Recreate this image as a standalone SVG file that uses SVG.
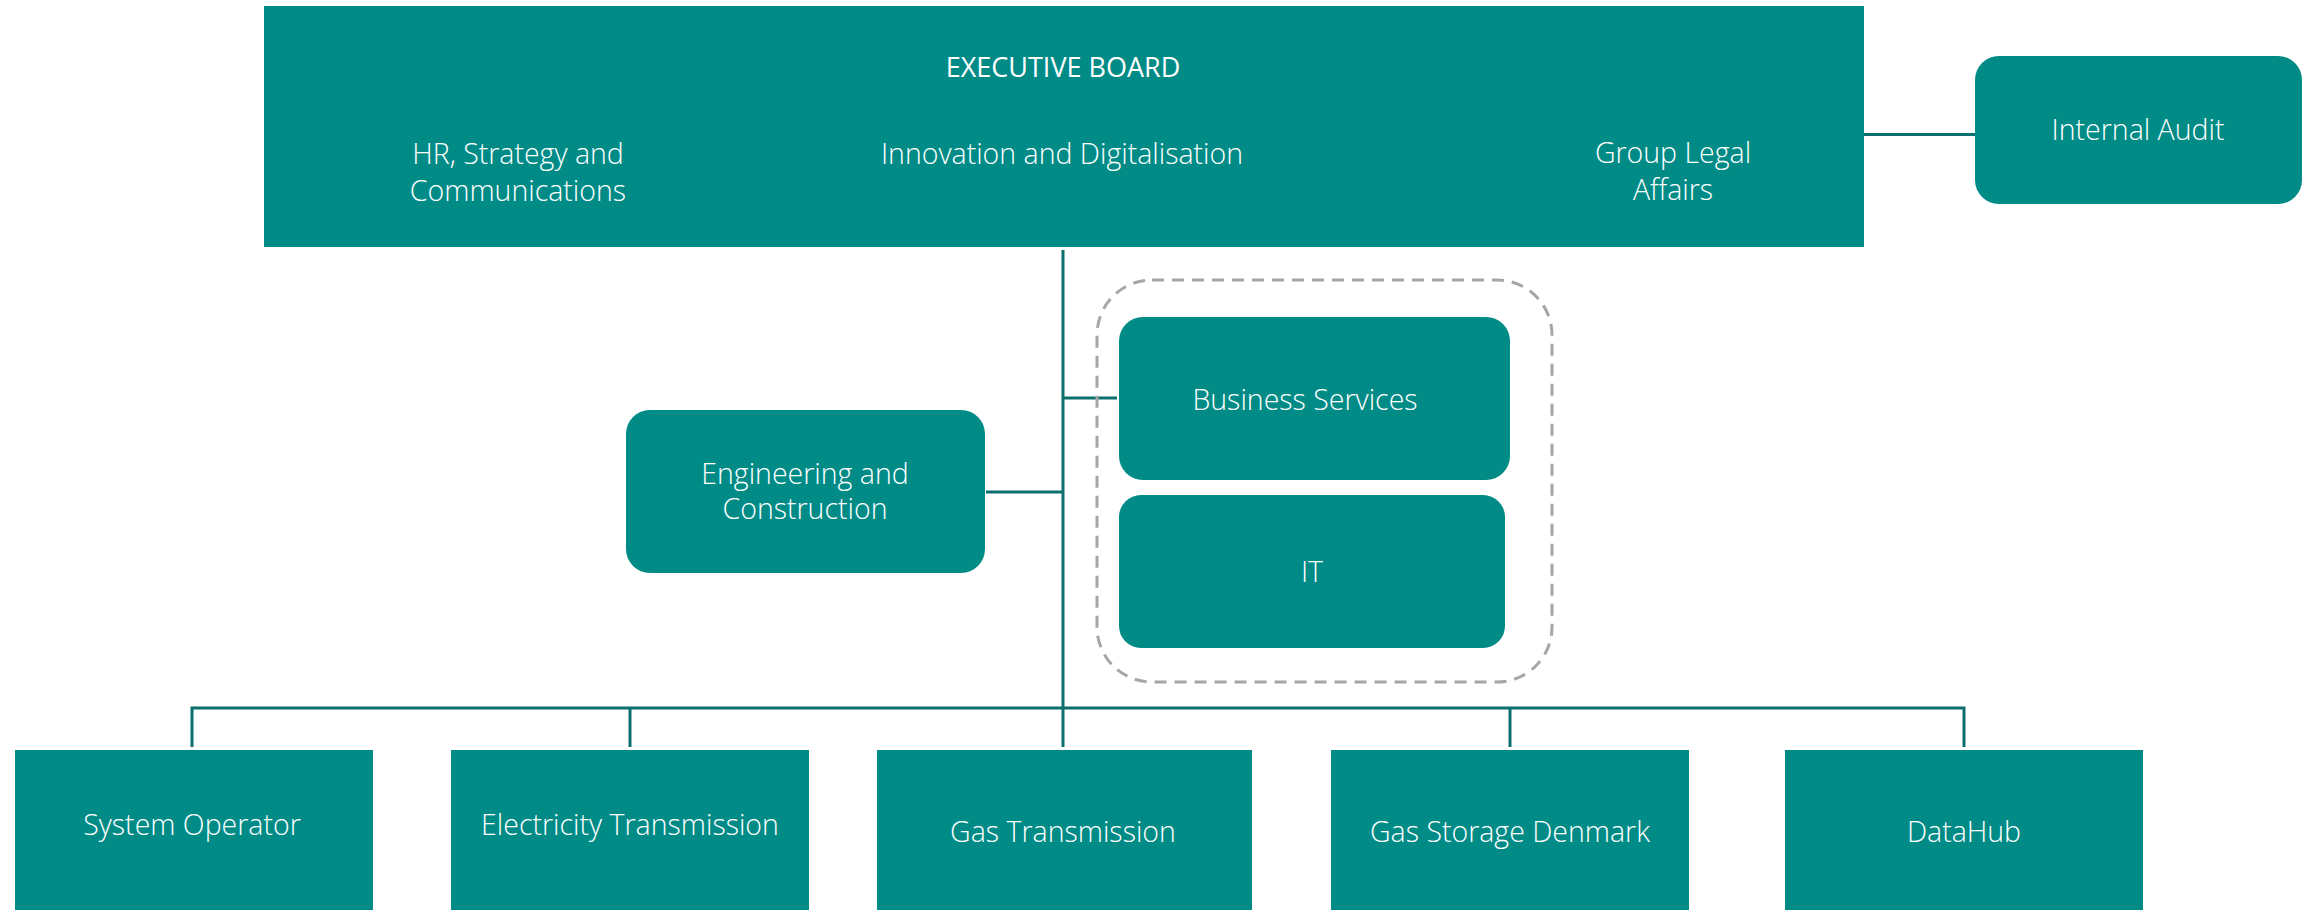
<svg xmlns="http://www.w3.org/2000/svg" width="2303" height="910" viewBox="0 0 2303 910">
<style>
.box{fill:#008b87}
.t{fill:#ffffff;font-family:"Open Sans","Noto Sans",sans-serif;font-weight:300;font-size:28.5px;text-anchor:middle}
.h{font-weight:400;font-size:27px}
.c{fill:none;stroke:#0b706d;stroke-width:3}
.grp{fill:none;stroke:#a6a6a6;stroke-width:3;stroke-dasharray:12 8}
</style>
<rect width="2303" height="910" fill="#ffffff"/>
<g id="connectors">
<path class="c" d="M1864 134.5H1975"/>
<path class="c" d="M1063 250V708"/>
<path class="c" d="M1063 398H1117"/>
<path class="c" d="M986 492H1063"/>
<path class="c" d="M192 747V708H1964V747"/>
<path class="c" d="M630 708V747M1510 708V747M1063 708V747"/>
</g>
<g id="group-frame">
<rect class="grp" x="1097" y="280" width="455" height="402" rx="55"/>
</g>
<g id="executive-board">
<rect class="box" x="264" y="6" width="1600" height="241"/>
<text class="t h" x="1063" y="77">EXECUTIVE BOARD</text>
<text class="t" x="518" y="164">HR, Strategy and</text>
<text class="t" x="518" y="201">Communications</text>
<text class="t" x="1062" y="164">Innovation and Digitalisation</text>
<text class="t" x="1673" y="163">Group Legal</text>
<text class="t" x="1673" y="200">Affairs</text>
</g>
<g id="internal-audit">
<rect class="box" x="1975" y="56" width="327" height="148" rx="24"/>
<text class="t" x="2138" y="140">Internal Audit</text>
</g>
<g id="business-services">
<rect class="box" x="1119" y="317" width="391" height="163" rx="24"/>
<text class="t" x="1305" y="410">Business Services</text>
</g>
<g id="it">
<rect class="box" x="1119" y="495" width="386" height="153" rx="22"/>
<text class="t" x="1312" y="582">IT</text>
</g>
<g id="engineering">
<rect class="box" x="626" y="410" width="359" height="163" rx="24"/>
<text class="t" x="805" y="484">Engineering and</text>
<text class="t" x="805" y="519">Construction</text>
</g>
<g id="system-operator">
<rect class="box" x="15" y="750" width="358" height="160"/>
<text class="t" x="192" y="835">System Operator</text>
</g>
<g id="electricity-transmission">
<rect class="box" x="451" y="750" width="358" height="160"/>
<text class="t" x="630" y="835">Electricity Transmission</text>
</g>
<g id="gas-transmission">
<rect class="box" x="877" y="750" width="375" height="160"/>
<text class="t" x="1063" y="842">Gas Transmission</text>
</g>
<g id="gas-storage-denmark">
<rect class="box" x="1331" y="750" width="358" height="160"/>
<text class="t" x="1510" y="842">Gas Storage Denmark</text>
</g>
<g id="datahub">
<rect class="box" x="1785" y="750" width="358" height="160"/>
<text class="t" x="1964" y="842">DataHub</text>
</g>
</svg>
